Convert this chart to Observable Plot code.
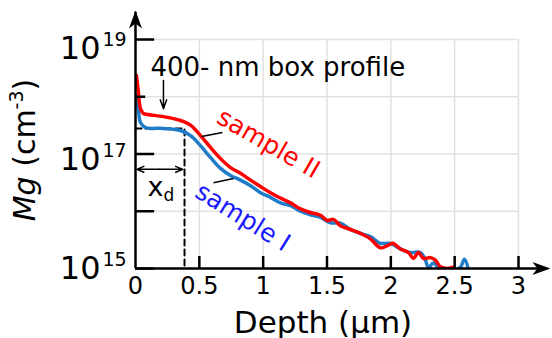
<!DOCTYPE html>
<html><head><meta charset="utf-8">
<script src="https://cdn.jsdelivr.net/npm/d3@7"></script>
<script src="https://cdn.jsdelivr.net/npm/@observablehq/plot@0.6"></script>
<style>body{margin:0;background:#fff;} svg{display:block;}</style>
</head><body><div id="chart"></div>
<script>
// sample II (red)
const depthII = [0.008,0.023,0.039,0.063,0.094,0.219,0.352,0.431,0.509,0.587,0.666,0.744,0.822,0.901,0.979,1.057,1.135,1.214,1.292,1.370,1.449,1.503,1.550,1.605,1.684,1.762,1.840,1.918,1.973,2.013,2.075,2.138,2.177,2.216,2.255,2.310,2.349,2.388,2.443,2.490];
const mgII = [2.35e18,1.18e18,6.2e17,5.1e17,4.9e17,4.5e17,3.85e17,3.2e17,2.1e17,1.3e17,8.3e16,5.8e16,4.6e16,3.5e16,2.7e16,2.1e16,1.7e16,1.4e16,1.1e16,9.5e15,8.5e15,6.9e15,7.2e15,5.6e15,4.8e15,4.1e15,3.3e15,2.3e15,2.5e15,2.75e15,2.2e15,1.9e15,1.5e15,1.9e15,1.5e15,1.55e15,1.4e15,1.07e15,1.0e15,1.05e15];
// sample I (blue)
const depthI = [0.008,0.023,0.039,0.078,0.219,0.352,0.431,0.509,0.587,0.666,0.744,0.822,0.901,0.979,1.057,1.135,1.214,1.292,1.370,1.449,1.527,1.605,1.684,1.762,1.840,1.918,1.997,2.075,2.153,2.232,2.271,2.294,2.334,2.373,2.412,2.506,2.545,2.577,2.608];
const mgI = [1.05e18,5.8e17,3.55e17,2.9e17,2.8e17,2.57e17,2.1e17,1.4e17,8.7e16,5.6e16,4.2e16,3.5e16,2.8e16,2.1e16,1.75e16,1.4e16,1.25e16,1.0e16,8.7e15,7.8e15,6.3e15,6.2e15,4.8e15,4.1e15,3.6e15,2.75e15,2.75e15,2.2e15,1.9e15,1.9e15,1.4e15,1.05e15,1.25e15,1.05e15,0.95e15,0.95e15,1.05e15,1.45e15,0.95e15];

const xTicks = [0.5, 1, 1.5, 2, 2.5, 3];
const xTickLabels = ["0", "0.5", "1", "1.5", "2", "2.5", "3"];
const xTickLabelValues = [0, 0.5, 1, 1.5, 2, 2.5, 3];
const yGrid = [1e16, 1e17, 1e18, 1e19];
const yMajorTicks = [1e15, 1e16, 1e17, 1e19];
const yMinorTicks = [1e18];
const yLabelValues = [1e15, 1e17, 1e19];
const yLabelExps = ["15", "17", "19"];

const boxDepth = 0.384;   // µm
const boxLevel = 2.8e17;  // cm^-3
const annText = "400- nm box profile";
const annTextPos = [0.117, 2.35e18];
const annArrow = [0.219, 1.92e18, 0.219, 6.2e17];
const xdLevel = 5.4e16;
const xdLabelPos = [0.094, 1.88e16];
const labelII = {text: "sample II", x: 1.041, y: 1.52e17};
const labelI = {text: "sample I", x: 0.840, y: 7.84e15};
const leaderII = [0.517, 2.02e17, 0.681, 2.38e17];
const leaderI = [0.611, 3.16e16, 0.767, 3.73e16];

const seriesII = depthII.map((d, i) => ({depth: d, mg: mgII[i]}));
const seriesI = depthI.map((d, i) => ({depth: d, mg: mgI[i]}));

const FONT = "DejaVu Sans";
const stealth = {
  draw(ctx) {
    ctx.moveTo(0, 0);
    ctx.lineTo(-18, -6.5);
    ctx.lineTo(-13, 0);
    ctx.lineTo(-18, 6.5);
    ctx.closePath();
  }
};

const yLabelMarks = [];
const yLabelDy = {"15": 10, "17": 16, "19": 19};
yLabelValues.forEach((v, i) => {
  const e = yLabelExps[i];
  yLabelMarks.push(Plot.text([v], {x: 0, y: d => d, text: () => "10", dx: -35, dy: yLabelDy[e], textAnchor: "end", lineAnchor: "bottom", fontSize: 32, fill: "black"}));
  yLabelMarks.push(Plot.text([v], {x: 0, y: d => d, text: () => e, dx: -33, dy: yLabelDy[e] - 13, textAnchor: "start", lineAnchor: "bottom", fontSize: 19, fill: "black"}));
});

const chart = Plot.plot({
  width: 552,
  height: 338,
  marginLeft: 135,
  marginRight: 34,
  marginTop: 39,
  marginBottom: 70,
  style: {fontFamily: FONT, background: "white", overflow: "visible"},
  x: {domain: [0, 3], axis: null},
  y: {type: "log", domain: [1e15, 1e19], axis: null},
  marks: [
    Plot.ruleX(xTicks, {x: d => d, y1: 1e15, y2: 1e19, stroke: "#e2e2e2", strokeWidth: 1.5}),
    Plot.ruleY(yGrid, {y: d => d, x1: 0, x2: 3, stroke: "#e2e2e2", strokeWidth: 1.5}),
    // box profile
    Plot.line([[0, boxLevel], [boxDepth, boxLevel], [boxDepth, 1e15]], {x: d => d[0], y: d => d[1], stroke: "black", strokeWidth: 2, strokeDasharray: "6,4"}),
    // data
    Plot.line(seriesI, {x: "depth", y: "mg", stroke: "#1f7cc8", strokeWidth: 3.5, curve: "catmull-rom", clip: true}),
    Plot.line(seriesII, {x: "depth", y: "mg", stroke: "#ff0000", strokeWidth: 3.5, curve: "catmull-rom", clip: true}),
    // axes
    Plot.ruleY([1e15], {x1: 0, x2: 3.2, stroke: "black", strokeWidth: 2.5}),
    Plot.ruleX([0], {y1: 1e15, y2: 3e19, stroke: "black", strokeWidth: 2.5}),
    Plot.dot([[3.25, 1e15]], {x: d => d[0], y: d => d[1], symbol: stealth, fill: "black", stroke: "none"}),
    Plot.dot([[0, 3.21e19]], {x: d => d[0], y: d => d[1], symbol: stealth, rotate: -90, fill: "black", stroke: "none"}),
    Plot.ruleY(yMajorTicks, {y: d => d, x1: 0, x2: 0.15, stroke: "black", strokeWidth: 2.5}),
    Plot.ruleY(yMinorTicks, {y: d => d, x1: 0, x2: 0.08, stroke: "black", strokeWidth: 2.5}),
    Plot.ruleX(xTicks, {x: d => d, y1: 1e15, y2: 1.62e15, stroke: "black", strokeWidth: 2.5}),
    Plot.text(xTickLabelValues, {x: d => d, y: 1e15, text: (d, i) => xTickLabels[i], dy: 25, lineAnchor: "bottom", fontSize: 24, fill: "black"}),
    ...yLabelMarks,
    Plot.text(["Depth (μm)"], {frameAnchor: "bottom", dx: -4, dy: 64, lineAnchor: "bottom", fontSize: 31, fill: "black"}),
    // annotations
    Plot.text([annText], {x: annTextPos[0], y: annTextPos[1], textAnchor: "start", lineAnchor: "bottom", fontSize: 26, fill: "black"}),
    Plot.arrow([annArrow], {x1: d => d[0], y1: d => d[1], x2: d => d[2], y2: d => d[3], stroke: "black", strokeWidth: 1.5, headLength: 10, headAngle: 40}),
    Plot.arrow([[0.19, 0.01], [0.19, 0.37]], {x1: d => d[0], x2: d => d[1], y1: xdLevel, y2: xdLevel, stroke: "black", strokeWidth: 1.5, headLength: 9, headAngle: 45}),
    Plot.text(["x"], {x: xdLabelPos[0], y: xdLabelPos[1], textAnchor: "start", lineAnchor: "bottom", fontSize: 27, fill: "black"}),
    Plot.text(["d"], {x: xdLabelPos[0], y: xdLabelPos[1], dx: 16, dy: 5, textAnchor: "start", lineAnchor: "bottom", fontSize: 17, fill: "black"}),
    Plot.text([labelII], {x: "x", y: "y", text: "text", rotate: 30, fontSize: 25, fill: "#ff0000", textAnchor: "middle", lineAnchor: "middle"}),
    Plot.text([labelI], {x: "x", y: "y", text: "text", rotate: 32, fontSize: 25, fill: "#1a1aff", textAnchor: "middle", lineAnchor: "middle"}),
    Plot.link([leaderII, leaderI], {x1: d => d[0], y1: d => d[1], x2: d => d[2], y2: d => d[3], stroke: "black", strokeWidth: 1.5})
  ]
});

// y-axis title with italic Mg and superscript
const svg = d3.select(chart);
const t = svg.append("text")
  .attr("transform", "translate(35,150) rotate(-90)")
  .attr("text-anchor", "middle")
  .attr("font-family", FONT)
  .attr("font-size", 30)
  .attr("fill", "black");
t.append("tspan").attr("font-style", "italic").text("Mg");
t.append("tspan").text(" (cm");
t.append("tspan").attr("font-size", 19).attr("dy", -12).text("-3");
t.append("tspan").attr("dy", 12).text(")");

document.getElementById("chart").appendChild(chart);
</script>
</body></html>
